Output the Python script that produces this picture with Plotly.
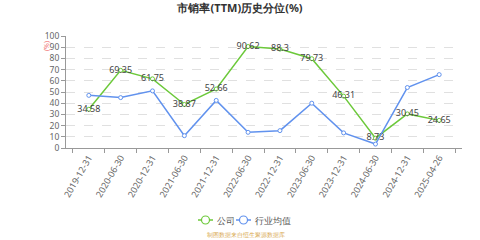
import plotly.graph_objects as go

categories = ["2019-12-31", "2020-06-30", "2020-12-31", "2021-06-30", "2021-12-31",
              "2022-06-30", "2022-12-31", "2023-06-30", "2023-12-31", "2024-06-30",
              "2024-12-31", "2025-04-26"]
company = [34.58, 69.35, 61.75, 38.87, 52.66, 90.62, 88.3, 79.73, 46.31, 8.73, 30.45, 24.65]
industry = [47, 45, 51, 11, 42.5, 14, 15.5, 40, 13.5, 3.5, 54, 65.5]
y_ticks = list(range(0, 101, 10))
series_names = ["公司", "行业均值"]

GREEN = "#6cc93a"
BLUE = "#6192ee"

L, R, T, B, W, H = 66, 18, 36, 92, 480, 240
PW, PH = W - L - R, H - T - B


def px(x):
    return (x - L) / PW


def py(y):
    return (H - B - y) / PH


fig = go.Figure()
fig.add_trace(go.Scatter(
    x=categories, y=company, name=series_names[0], mode="lines+markers+text",
    line=dict(color=GREEN, width=1.5),
    marker=dict(symbol="circle", size=4, color="white", line=dict(color=GREEN, width=1)),
    text=[f"{v:g}" for v in company], textposition="middle center",
    textfont=dict(size=9, color="#444", family="Noto Sans"),
    showlegend=False,
))
fig.add_trace(go.Scatter(
    x=categories, y=industry, name=series_names[1], mode="lines+markers",
    line=dict(color=BLUE, width=1.5),
    marker=dict(symbol="circle", size=4, color="white", line=dict(color=BLUE, width=1)),
    showlegend=False,
))

# manual compact legend
shapes = []
annotations = []
leg_y = 220
for (x0, name, color) in [(198, series_names[0], GREEN), (236, series_names[1], BLUE)]:
    shapes.append(dict(type="line", xref="paper", yref="paper",
                       x0=px(x0), x1=px(x0 + 15), y0=py(leg_y), y1=py(leg_y),
                       line=dict(color=color, width=1.5)))
    shapes.append(dict(type="circle", xref="paper", yref="paper",
                       x0=px(x0 + 3.5), x1=px(x0 + 11.5), y0=py(leg_y + 4), y1=py(leg_y - 4),
                       fillcolor="white", line=dict(color=color, width=1.2)))
    annotations.append(dict(text=name, xref="paper", yref="paper", x=px(x0 + 17), y=py(leg_y),
                            xanchor="left", yanchor="middle", showarrow=False,
                            font=dict(size=9, color="#555")))

annotations += [
    dict(text="(%)", xref="paper", yref="paper", x=px(46), y=py(46), textangle=-90,
         xanchor="center", yanchor="middle",
         showarrow=False, font=dict(size=7, color="#f07070")),
    dict(text="制图数据来自恒生聚源数据库", xref="paper", yref="paper", x=px(246), y=py(235),
         xanchor="center", yanchor="middle", showarrow=False,
         font=dict(size=6, color="#d8a850")),
]

fig.update_layout(
    width=W, height=H,
    margin=dict(l=L, r=R, t=T, b=B),
    paper_bgcolor="white", plot_bgcolor="white",
    font=dict(family="Noto Sans", size=9, color="#666"),
    title=dict(text="<b>市销率(TTM)历史分位(%)</b>", x=0.5, xanchor="center",
               y=0.965, yanchor="middle", font=dict(size=11, color="#333")),
    showlegend=False,
    xaxis=dict(type="category", categoryorder="array", categoryarray=categories,
               tickangle=-60, tickson="boundaries", ticks="outside", ticklen=4,
               tickcolor="#999", showline=True, linecolor="#999", linewidth=1,
               showgrid=False, tickfont=dict(size=9, color="#666")),
    yaxis=dict(range=[0, 100], tickvals=y_ticks, ticks="outside", ticklen=4,
               tickcolor="#999", showline=True, linecolor="#999", linewidth=1,
               showgrid=True, gridcolor="#e0e0e0", griddash="dash", zeroline=False,
               tickfont=dict(size=8.5, color="#666")),
    shapes=shapes,
    annotations=annotations,
)

fig.write_html("out.html")
